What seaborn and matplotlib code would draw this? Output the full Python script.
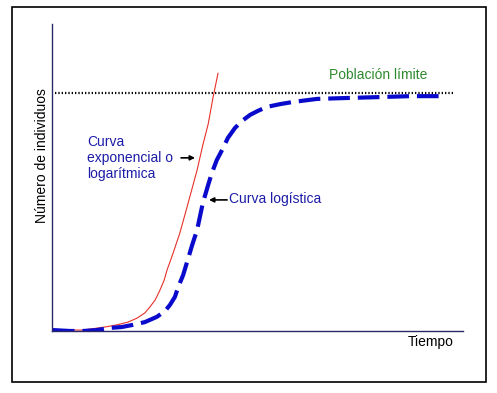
import matplotlib
matplotlib.use("Agg")
import matplotlib.pyplot as plt
import seaborn as sns
import pandas as pd
from matplotlib.patches import Rectangle

# Data (arbitrary units: time 0-10, individuals 0-100)
exp_time = [0.07, 0.75, 1.29, 1.58, 1.85, 2.07, 2.26, 2.38, 2.51, 2.63, 2.73, 2.80,
            2.94, 3.11, 3.28, 3.53, 3.67, 3.80, 3.92, 4.04]
exp_pop = [0.3, 0.3, 1.3, 2.0, 2.9, 4.2, 5.9, 7.8, 10.1, 13.4, 16.6, 19.9,
           25.1, 31.9, 40.1, 52.4, 60.6, 67.4, 76.2, 84.0]

log_time = [0.02, 0.44, 0.75, 1.09, 1.41, 1.70, 1.97, 2.26, 2.55, 2.75, 2.87, 2.99,
            3.07, 3.19, 3.31, 3.41, 3.53, 3.67, 3.80, 3.89, 4.01, 4.14, 4.28, 4.45,
            4.62, 4.82, 5.01, 5.23, 5.55, 5.86, 6.45, 7.18, 7.98, 8.71, 9.44]
log_pop = [0.3, 0.0, 0.0, 0.3, 1.0, 1.3, 2.0, 2.9, 4.6, 6.5, 8.5, 11.1,
           14.3, 18.2, 23.5, 28.0, 32.9, 41.7, 47.6, 51.5, 55.7, 59.0, 62.9, 66.1,
           68.4, 70.4, 71.7, 73.0, 73.9, 74.6, 75.6, 75.9, 76.2, 76.5, 76.5]

limit_time = [0.07, 9.75]
limit_pop = [77.5, 77.5]

sns.set_style("white")
plt.rcParams['font.family'] = ['Liberation Sans', 'DejaVu Sans']

fig = plt.figure(figsize=(4.97, 3.93), dpi=100)
W, H = 497, 393
ax = fig.add_axes([52 / W, (H - 331) / H, 411 / W, 307 / H])

df_exp = pd.DataFrame({"t": exp_time, "n": exp_pop})
df_log = pd.DataFrame({"t": log_time, "n": log_pop})
df_lim = pd.DataFrame({"t": limit_time, "n": limit_pop})

sns.lineplot(data=df_lim, x="t", y="n", ax=ax, color="black", lw=1.6,
             linestyle=(0, (0.6, 0.9)), sort=False)
sns.lineplot(data=df_exp, x="t", y="n", ax=ax, color="#E8302A", lw=0.8, sort=False)
sns.lineplot(data=df_log, x="t", y="n", ax=ax, color="#0A0ACC", lw=3.0,
             linestyle=(0, (5.2, 1.9)), sort=False)

ax.set_xlim(0, 10)
ax.set_ylim(0, 100)
ax.set_xticks([])
ax.set_yticks([])
ax.set_xlabel("")
ax.set_ylabel("")
for s in ["top", "right"]:
    ax.spines[s].set_visible(False)
for s in ["left", "bottom"]:
    ax.spines[s].set_color("#2a2a6a")
    ax.spines[s].set_linewidth(1.0)

fs = 10
txt_blue = "#1C1CA8"
ax.text(0.85, 56.4, "Curva\nexponencial o\nlogarítmica", ha="left", va="center",
        color=txt_blue, fontsize=fs, linespacing=1.15)
ax.annotate("", xy=(3.48, 56.4), xytext=(3.14, 56.4),
            arrowprops=dict(arrowstyle="-|>", color="black", lw=1.2,
                            mutation_scale=7, shrinkA=0, shrinkB=0))
ax.annotate("", xy=(3.82, 42.7), xytext=(4.26, 42.7),
            arrowprops=dict(arrowstyle="-|>", color="black", lw=1.2,
                            mutation_scale=7, shrinkA=0, shrinkB=0))
ax.text(4.30, 43.0, "Curva logística", ha="left", va="center",
        color=txt_blue, fontsize=fs)
ax.text(7.93, 83.4, "Población límite", ha="center", va="center",
        color="#2E8A2E", fontsize=fs)
ax.text(9.76, -3.6, "Tiempo", ha="right", va="center", color="black",
        fontsize=fs, clip_on=False)

fig.text(42 / W, 1 - 156 / H, "Número de individuos", rotation=90,
         ha="center", va="center", fontsize=fs, color="black")

fig.patches.append(Rectangle((12 / W, 1 - 382 / H), (486 - 12) / W, (382 - 7) / H,
                             transform=fig.transFigure, fill=False,
                             edgecolor="black", lw=1.2))

fig.savefig("out.png", dpi=100)
